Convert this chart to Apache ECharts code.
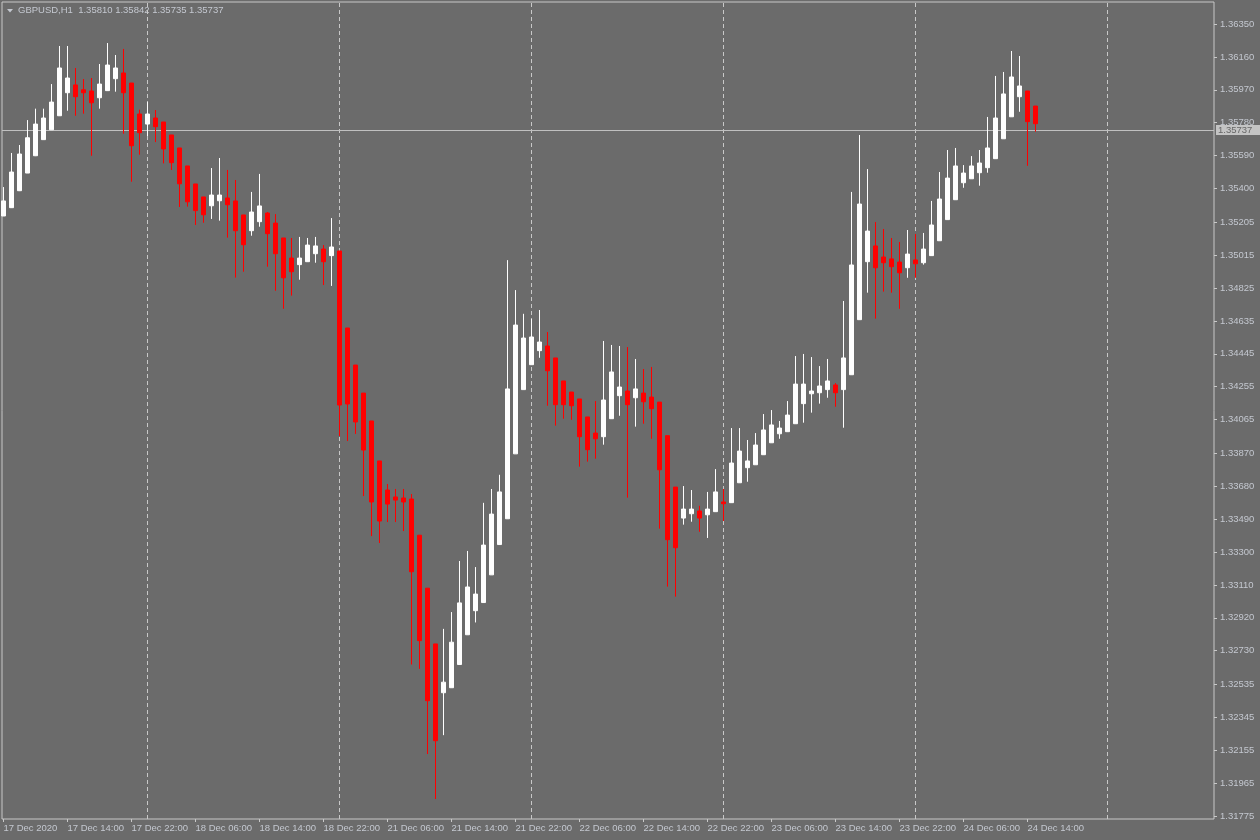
<!DOCTYPE html>
<html>
<head>
<meta charset="utf-8">
<title>GBPUSD,H1</title>
<script src="https://cdn.jsdelivr.net/npm/echarts@6/dist/echarts.min.js"></script>
<style>
  html, body { margin: 0; padding: 0; background: #6b6b6b; }
  #chart { width: 1260px; height: 840px; }
</style>
</head>
<body>
<div id="chart"></div>
<script>
// hourly bars, 17 Dec 06:00 .. 24 Dec 15:00
const opens = [
  1.35241, 1.35289, 1.35387, 1.35489, 1.35589, 1.35682, 1.35739, 1.35820, 1.35953, 1.35998,
  1.35970, 1.35963, 1.35924, 1.35965, 1.36034, 1.36067, 1.36009, 1.35830, 1.35772, 1.35807,
  1.35784, 1.35709, 1.35634, 1.35530, 1.35426, 1.35351, 1.35300, 1.35329, 1.35345, 1.35328,
  1.35247, 1.35156, 1.35208, 1.35258, 1.35200, 1.35114, 1.34998, 1.34960, 1.34977, 1.35023,
  1.35050, 1.35012, 1.35039, 1.34594, 1.34380, 1.34218, 1.34057, 1.33826, 1.33658, 1.33618,
  1.33612, 1.33606, 1.33397, 1.33091, 1.32769, 1.32487, 1.32516, 1.32650, 1.32822, 1.32961,
  1.33008, 1.33168, 1.33343, 1.33492, 1.33867, 1.34238, 1.34382, 1.34463, 1.34490, 1.34421,
  1.34288, 1.34224, 1.34184, 1.34080, 1.33987, 1.33966, 1.34070, 1.34203, 1.34230, 1.34191,
  1.34218, 1.34195, 1.34166, 1.33972, 1.33675, 1.33496, 1.33521, 1.33537, 1.33515, 1.33533,
  1.33589, 1.33585, 1.33700, 1.33787, 1.33804, 1.33862, 1.33931, 1.33983, 1.33995, 1.34041,
  1.34157, 1.34214, 1.34220, 1.34238, 1.34265, 1.34238, 1.34324, 1.34642, 1.34977, 1.35068,
  1.35004, 1.34993, 1.34975, 1.34942, 1.34987, 1.34971, 1.35012, 1.35098, 1.35220, 1.35335,
  1.35433, 1.35456, 1.35491, 1.35520, 1.35572, 1.35687, 1.35814, 1.35930, 1.35963, 1.35876
];
const closes = [
  1.35328, 1.35495, 1.35599, 1.35693, 1.35772, 1.35807, 1.35899, 1.36096, 1.36038, 1.35930,
  1.35953, 1.35895, 1.36003, 1.36113, 1.36096, 1.35953, 1.35647, 1.35722, 1.35830, 1.35757,
  1.35628, 1.35549, 1.35427, 1.35323, 1.35272, 1.35248, 1.35362, 1.35362, 1.35306, 1.35156,
  1.35075, 1.35264, 1.35299, 1.35139, 1.35023, 1.34884, 1.34919, 1.34998, 1.35073, 1.35068,
  1.34977, 1.35062, 1.34149, 1.34155, 1.34051, 1.33889, 1.33589, 1.33479, 1.33577, 1.33600,
  1.33589, 1.33186, 1.32788, 1.32441, 1.32210, 1.32548, 1.32779, 1.33006, 1.33098, 1.33057,
  1.33340, 1.33519, 1.33647, 1.34242, 1.34611, 1.34536, 1.34542, 1.34513, 1.34347, 1.34151,
  1.34151, 1.34145, 1.33966, 1.33891, 1.33954, 1.34178, 1.34340, 1.34253, 1.34151, 1.34242,
  1.34168, 1.34128, 1.33775, 1.33371, 1.33325, 1.33548, 1.33548, 1.33496, 1.33548, 1.33647,
  1.33579, 1.33814, 1.33883, 1.33826, 1.33918, 1.34005, 1.34034, 1.34016, 1.34091, 1.34270,
  1.34270, 1.34230, 1.34259, 1.34288, 1.34220, 1.34421, 1.34958, 1.35310, 1.35154, 1.34942,
  1.34971, 1.34948, 1.34913, 1.35021, 1.34965, 1.35050, 1.35189, 1.35339, 1.35460, 1.35530,
  1.35489, 1.35530, 1.35547, 1.35634, 1.35807, 1.35946, 1.36044, 1.35992, 1.35786, 1.35774
];
const lows = [
  1.35241, 1.35287, 1.35385, 1.35489, 1.35587, 1.35682, 1.35738, 1.35819, 1.35849, 1.35820,
  1.35832, 1.35589, 1.35861, 1.35965, 1.35959, 1.35716, 1.35439, 1.35595, 1.35703, 1.35668,
  1.35545, 1.35507, 1.35293, 1.35295, 1.35189, 1.35202, 1.35224, 1.35214, 1.35116, 1.34885,
  1.34919, 1.35127, 1.35179, 1.34948, 1.34809, 1.34705, 1.34781, 1.34873, 1.34977, 1.34971,
  1.34842, 1.34837, 1.33970, 1.33941, 1.33982, 1.33623, 1.33392, 1.33352, 1.33473, 1.33473,
  1.33421, 1.32650, 1.32625, 1.32133, 1.31873, 1.32242, 1.32516, 1.32650, 1.32822, 1.32893,
  1.33008, 1.33168, 1.33343, 1.33492, 1.33867, 1.34238, 1.34382, 1.34422, 1.34145, 1.34030,
  1.34070, 1.34064, 1.33793, 1.33822, 1.33839, 1.33920, 1.34070, 1.34087, 1.33614, 1.34024,
  1.34041, 1.33954, 1.33435, 1.33100, 1.33042, 1.33458, 1.33475, 1.33417, 1.33381, 1.33533,
  1.33479, 1.33585, 1.33700, 1.33706, 1.33804, 1.33862, 1.33931, 1.33954, 1.33995, 1.34041,
  1.34047, 1.34105, 1.34157, 1.34191, 1.34139, 1.34018, 1.34324, 1.34642, 1.34798, 1.34648,
  1.34804, 1.34798, 1.34705, 1.34884, 1.34884, 1.34960, 1.35012, 1.35098, 1.35220, 1.35335,
  1.35404, 1.35456, 1.35416, 1.35491, 1.35572, 1.35687, 1.35814, 1.35843, 1.35531, 1.35728
];
const highs = [
  1.35408, 1.35605, 1.35651, 1.35795, 1.35861, 1.35861, 1.36003, 1.36223, 1.36223, 1.36096,
  1.36032, 1.36038, 1.36119, 1.36240, 1.36171, 1.36206, 1.36009, 1.35855, 1.35899, 1.35853,
  1.35784, 1.35709, 1.35634, 1.35530, 1.35426, 1.35351, 1.35518, 1.35576, 1.35507, 1.35449,
  1.35247, 1.35380, 1.35484, 1.35264, 1.35252, 1.35114, 1.35114, 1.35120, 1.35114, 1.35120,
  1.35073, 1.35229, 1.35039, 1.34594, 1.34380, 1.34218, 1.34057, 1.33826, 1.33693, 1.33664,
  1.33664, 1.33635, 1.33397, 1.33091, 1.32769, 1.32856, 1.32953, 1.33248, 1.33306, 1.33213,
  1.33584, 1.33664, 1.33746, 1.34986, 1.34813, 1.34676, 1.34646, 1.34698, 1.34571, 1.34421,
  1.34288, 1.34224, 1.34184, 1.34080, 1.34172, 1.34519, 1.34496, 1.34490, 1.34484, 1.34415,
  1.34357, 1.34369, 1.34166, 1.33972, 1.33675, 1.33681, 1.33658, 1.33567, 1.33647, 1.33779,
  1.33664, 1.34016, 1.34016, 1.33947, 1.33987, 1.34097, 1.34120, 1.34057, 1.34172, 1.34432,
  1.34444, 1.34426, 1.34374, 1.34415, 1.34276, 1.34750, 1.35380, 1.35709, 1.35512, 1.35206,
  1.35166, 1.35114, 1.35091, 1.35160, 1.35137, 1.35143, 1.35328, 1.35495, 1.35622, 1.35634,
  1.35535, 1.35587, 1.35622, 1.35813, 1.36050, 1.36073, 1.36194, 1.36165, 1.35963, 1.35876
];

// a label every 8 bars, starting at bar 0
const xLabels = [
  '17 Dec 2020', '17 Dec 14:00', '17 Dec 22:00', '18 Dec 06:00', '18 Dec 14:00',
  '18 Dec 22:00', '21 Dec 06:00', '21 Dec 14:00', '21 Dec 22:00', '22 Dec 06:00',
  '22 Dec 14:00', '22 Dec 22:00', '23 Dec 06:00', '23 Dec 14:00', '23 Dec 22:00',
  '24 Dec 06:00', '24 Dec 14:00'
];
const labelStep = 8;
// bars that open a new day (00:00)
const daySeparators = [18, 42, 66, 90, 114, 138];

const yTicks = [
  1.36350, 1.36160, 1.35970, 1.35780, 1.35590, 1.35400, 1.35205, 1.35015, 1.34825,
  1.34635, 1.34445, 1.34255, 1.34065, 1.33870, 1.33680, 1.33490, 1.33300, 1.33110,
  1.32920, 1.32730, 1.32535, 1.32345, 1.32155, 1.31965, 1.31775
];

const symbolName = 'GBPUSD,H1';
const lastOHLC = [1.35810, 1.35842, 1.35735, 1.35737];
const bidPrice = 1.35737;

const fg = '#c4c8d0';
const font = 'Liberation Sans';

const candles = opens.map((o, i) => [i, o, closes[i], lows[i], highs[i]]);
const xTickValues = xLabels.map((_, i) => i * labelStep);

const chart = echarts.init(document.getElementById('chart'));

chart.setOption({
  backgroundColor: '#6b6b6b',
  animation: false,
  textStyle: { fontFamily: font },
  grid: {
    show: true,
    left: 2, right: 46, top: 2, bottom: 21,
    borderColor: '#c8c8c8',
    borderWidth: 1,
    backgroundColor: 'transparent'
  },
  xAxis: {
    type: 'value',
    min: -0.1875,
    max: 151.3125,
    axisLine: { show: false, onZero: false },
    splitLine: { show: false },
    axisTick: {
      show: true,
      customValues: xTickValues,
      length: 3,
      lineStyle: { color: '#c8c8c8' }
    },
    axisLabel: {
      customValues: xTickValues,
      align: 'left',
      margin: 4,
      color: fg,
      fontSize: 9.5,
      fontFamily: font,
      formatter: v => xLabels[Math.round(v / labelStep)]
    }
  },
  yAxis: {
    type: 'value',
    position: 'right',
    min: 1.317577,
    max: 1.364771,
    axisLine: { show: false, onZero: false },
    splitLine: { show: false },
    axisTick: {
      show: true,
      customValues: yTicks,
      length: 3,
      lineStyle: { color: '#c8c8c8' }
    },
    axisLabel: {
      customValues: yTicks,
      margin: 6,
      color: fg,
      fontSize: 9.5,
      fontFamily: font,
      formatter: v => v.toFixed(5)
    }
  },
  graphic: [
    {
      type: 'polygon',
      shape: { points: [[7, 9], [13, 9], [10, 12.5]] },
      style: { fill: fg }
    },
    {
      type: 'text',
      left: 18, top: 5,
      style: {
        text: symbolName + '  ' + lastOHLC.map(v => v.toFixed(5)).join(' '),
        fill: fg,
        font: '9.5px "' + font + '"'
      }
    }
  ],
  series: [
    {
      // day separators and bid line, kept behind the candles
      type: 'line',
      data: [],
      z: 1,
      silent: true,
      markLine: {
        z: 1,
        precision: 5,
        silent: true,
        symbol: ['none', 'none'],
        animation: false,
        data: [
          ...daySeparators.map(i => ({
            xAxis: i,
            lineStyle: { color: '#c8c8c8', type: [4, 3], width: 1 },
            label: { show: false }
          })),
          {
            yAxis: bidPrice,
            lineStyle: { color: '#c0c0c0', type: 'solid', width: 1 },
            label: {
              show: true,
              position: 'end',
              distance: 2,
              formatter: bidPrice.toFixed(5),
              color: '#666666',
              backgroundColor: '#c4c4c4',
              fontSize: 9.5,
              fontFamily: font,
              lineHeight: 9,
              padding: [1, 8, 0, 2]
            }
          }
        ]
      }
    },
    {
      type: 'candlestick',
      z: 3,
      encode: { x: 0, y: [1, 2, 3, 4] },
      data: candles,
      barWidth: 4,
      clip: true,
      itemStyle: {
        color: '#ffffff',
        color0: '#ff0000',
        borderColor: '#ffffff',
        borderColor0: '#ff0000',
        borderWidth: 1
      }
    }
  ]
});
</script>
</body>
</html>
